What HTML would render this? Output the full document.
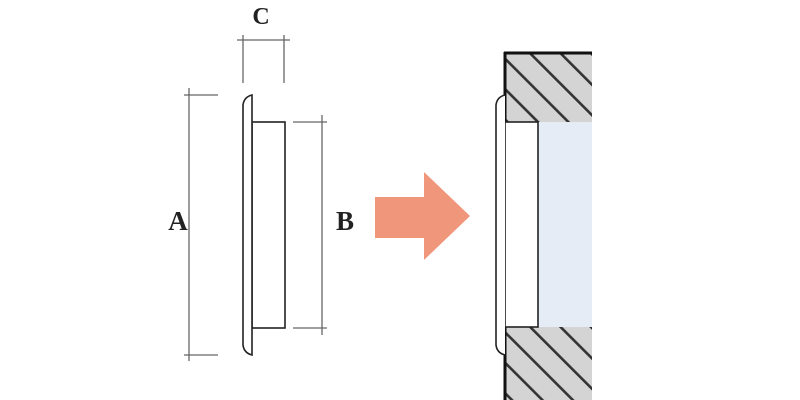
<!DOCTYPE html>
<html><head><meta charset="utf-8"><style>
html,body{margin:0;padding:0;background:#fff;}
svg{display:block}
</style></head><body>
<svg width="800" height="400" viewBox="0 0 800 400" xmlns="http://www.w3.org/2000/svg">
<defs>
<pattern id="h" patternUnits="userSpaceOnUse" width="21.5" height="21.5" patternTransform="translate(528,53) rotate(-45)">
<rect width="21.5" height="21.5" fill="#d4d4d4"/>
<rect x="0" y="0" width="2.6" height="21.5" fill="#333"/>
</pattern>
<clipPath id="wc"><rect x="505" y="53" width="87" height="347"/></clipPath>
</defs>
<g stroke="#666" stroke-width="1.3" fill="none">
<line x1="189" y1="88" x2="189" y2="361"/>
<line x1="184" y1="95" x2="218" y2="95"/>
<line x1="184" y1="355" x2="218" y2="355"/>
<line x1="322" y1="115" x2="322" y2="335"/>
<line x1="293" y1="122" x2="327" y2="122"/>
<line x1="293" y1="328" x2="327" y2="328"/>
<line x1="243" y1="35" x2="243" y2="83"/>
<line x1="284" y1="35" x2="284" y2="83"/>
<line x1="237" y1="40" x2="290" y2="40"/>
</g>
<g stroke="#222" stroke-width="1.6" fill="#fff">
<rect x="252" y="122" width="33" height="206"/>
<path d="M252 95 L252 355 Q244 353 243 345 L243 105 Q244 97 252 95 Z"/>
</g>
<text x="261" y="24" style="font-family:'Liberation Serif',serif;font-weight:bold;font-size:24px" text-anchor="middle" fill="#222">C</text>
<text x="178" y="230" style="font-family:'Liberation Serif',serif;font-weight:bold;font-size:27px" text-anchor="middle" fill="#222">A</text>
<text x="345" y="230" style="font-family:'Liberation Serif',serif;font-weight:bold;font-size:27px" text-anchor="middle" fill="#222">B</text>
<polygon points="375,197 424,197 424,172 470,216 424,260 424,238 375,238" fill="#f0967a"/>
<g clip-path="url(#wc)">
<rect x="505" y="53" width="87" height="347" fill="url(#h)"/>
</g>
<rect x="538" y="122" width="54" height="205" fill="#e6ecf5"/>
<g stroke="#111" fill="none">
<line x1="504" y1="53" x2="592" y2="53" stroke-width="3"/>
<line x1="505" y1="52" x2="505" y2="400" stroke-width="3"/>
</g>
<rect x="505" y="122" width="33" height="205" fill="#fff" stroke="#222" stroke-width="1.6"/>
<path d="M505 95 Q497 97 496 105 L496 345 Q497 353 505 355" fill="#fff" stroke="#222" stroke-width="1.6"/>
</svg>
</body></html>
